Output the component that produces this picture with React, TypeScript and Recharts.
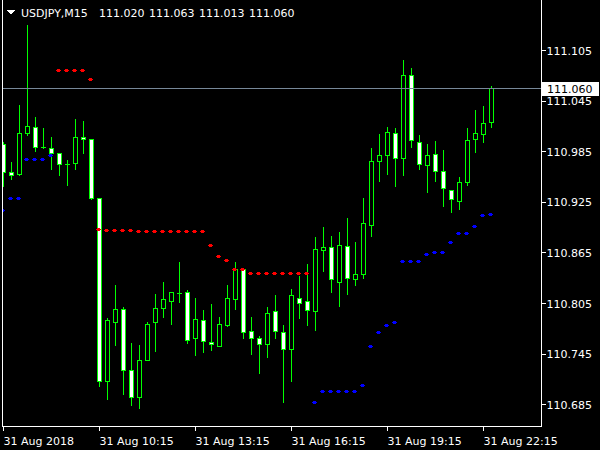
import { ComposedChart, Bar, Scatter, XAxis, YAxis, ReferenceLine } from 'recharts'

// USDJPY M15, bars from 31 Aug 07:15, one every 15 minutes
const openPrices = [
  110.994, 110.960, 110.958, 111.007, 111.014, 110.990, 110.989, 110.983, 110.970, 110.971,
  111.002, 111.000, 110.930, 110.712, 110.783, 110.798, 110.726, 110.693, 110.737, 110.782,
  110.799, 110.807, 110.817, 110.818, 110.763, 110.785, 110.759, 110.754, 110.779, 110.810,
  110.846, 110.772, 110.763, 110.756, 110.795, 110.771, 110.750, 110.811, 110.807, 110.796,
  110.868, 110.872, 110.830, 110.873, 110.834, 110.840, 110.898, 110.974, 110.981, 111.007,
  110.977, 111.075, 110.996, 110.969, 110.982, 110.962, 110.939, 110.926, 110.949, 111.000,
  111.006, 111.020,
]
const highPrices = [
  110.997, 110.973, 111.041, 111.136, 111.026, 111.013, 111.003, 110.983, 110.975, 111.024,
  111.022, 111.000, 110.930, 110.788, 110.827, 110.801, 110.758, 110.756, 110.783, 110.816,
  110.831, 110.818, 110.854, 110.821, 110.812, 110.797, 110.805, 110.789, 110.827, 110.854,
  110.847, 110.789, 110.766, 110.801, 110.815, 110.780, 110.822, 110.838, 110.852, 110.884,
  110.896, 110.885, 110.890, 110.906, 110.878, 110.930, 110.990, 111.006, 111.015, 111.013,
  111.094, 111.085, 111.005, 110.994, 110.998, 110.987, 110.939, 110.955, 111.013, 111.035,
  111.039, 111.063,
]
const lowPrices = [
  110.943, 110.952, 110.956, 111.004, 110.985, 110.988, 110.963, 110.956, 110.945, 110.964,
  110.983, 110.928, 110.706, 110.691, 110.755, 110.696, 110.683, 110.680, 110.737, 110.747,
  110.788, 110.779, 110.806, 110.757, 110.743, 110.746, 110.749, 110.754, 110.777, 110.797,
  110.763, 110.744, 110.721, 110.740, 110.763, 110.687, 110.712, 110.787, 110.778, 110.773,
  110.843, 110.817, 110.801, 110.815, 110.826, 110.834, 110.884, 110.949, 110.957, 110.943,
  110.956, 110.989, 110.963, 110.936, 110.949, 110.919, 110.912, 110.916, 110.945, 110.984,
  110.996, 111.013,
]
const closePrices = [
  110.960, 110.957, 111.007, 111.015, 110.990, 110.990, 110.983, 110.970, 110.970, 111.002,
  111.000, 110.930, 110.712, 110.785, 110.798, 110.725, 110.693, 110.737, 110.780, 110.799,
  110.810, 110.818, 110.817, 110.761, 110.786, 110.760, 110.756, 110.780, 110.811, 110.846,
  110.771, 110.763, 110.756, 110.793, 110.772, 110.750, 110.814, 110.805, 110.797, 110.869,
  110.871, 110.833, 110.874, 110.835, 110.840, 110.900, 110.974, 110.981, 111.008, 110.977,
  111.075, 110.998, 110.970, 110.981, 110.962, 110.941, 110.928, 110.949, 110.999, 111.007,
  111.019, 111.060,
]

// indicator dots (red above price, blue below)
const redLevels = [
  null, null, null, null, null, null, null, 111.082, 111.082, 111.081,
  111.081, 111.071, 110.893, 110.892, 110.892, 110.892, 110.892, 110.890, 110.890, 110.890,
  110.890, 110.890, 110.890, 110.890, 110.890, 110.890, 110.874, 110.861, 110.856, 110.846,
  110.846, 110.841, 110.841, 110.841, 110.841, 110.841, 110.841, 110.841, 110.841, null,
  null, null, null, null, null, null, null, null, null, null,
  null, null, null, null, null, null, null, null, null, null,
  null, null,
]
const blueLevels = [
  110.916, 110.930, 110.930, 110.976, 110.976, 110.976, 110.981, null, null, null,
  null, null, null, null, null, null, null, null, null, null,
  null, null, null, null, null, null, null, null, null, null,
  null, null, null, null, null, null, null, null, null, 110.688,
  110.701, 110.701, 110.701, 110.701, 110.701, 110.708, 110.754, 110.771, 110.779, 110.783,
  110.855, 110.855, 110.855, 110.863, 110.865, 110.865, 110.878, 110.888, 110.888, 110.896,
  110.909, 110.911,
]

const timeTicks = [0, 12, 24, 36, 48, 60]
const timeLabels = ['31 Aug 2018', '31 Aug 10:15', '31 Aug 13:15', '31 Aug 16:15', '31 Aug 19:15', '31 Aug 22:15']
const priceTicks = [111.105, 111.045, 110.985, 110.925, 110.865, 110.805, 110.745, 110.685]
const lastPrice = 111.060
const header = { symbol: 'USDJPY,M15', open: '111.020', high: '111.063', low: '111.013', close: '111.060' }

const FONT = 'DejaVu Sans, sans-serif'
const GREEN = '#00ff00'

const rows = openPrices.map((o, i) => ({
  i,
  open: o,
  high: highPrices[i],
  low: lowPrices[i],
  close: closePrices[i],
  range: [lowPrices[i], highPrices[i]],
}))
const redPoints = redLevels.map((v, i) => ({ i, v })).filter((p) => p.v !== null)
const bluePoints = blueLevels.map((v, i) => ({ i, v })).filter((p) => p.v !== null)

function Candle(props: any) {
  const { x, y, width, height, payload } = props
  const cx = x + width / 2
  const top = height >= 0 ? y : y + height
  const h = Math.abs(height)
  const span = payload.high - payload.low
  const toY = (p: number) => top + (span === 0 ? 0 : ((payload.high - p) / span) * h)
  const yO = toY(payload.open)
  const yC = toY(payload.close)
  const bodyTop = Math.min(yO, yC)
  const bodyBottom = Math.max(yO, yC)
  const bull = payload.close > payload.open
  return (
    <g>
      <line x1={cx} x2={cx} y1={top} y2={top + h} stroke={GREEN} />
      {bodyBottom - bodyTop < 1 ? (
        <line x1={cx - 2.5} x2={cx + 2.5} y1={bodyTop} y2={bodyTop} stroke={GREEN} />
      ) : (
        <rect x={cx - 2} y={bodyTop} width={4} height={bodyBottom - bodyTop} fill={bull ? '#000' : '#fff'} stroke={GREEN} />
      )}
    </g>
  )
}

const makeDot = (color: string) => (props: any) => (
  <g>
    <rect x={props.cx - 2.5} y={props.cy - 1.5} width={3} height={3} fill={color} />
    <rect x={props.cx - 3.5} y={props.cy - 0.5} width={5} height={1} fill={color} />
  </g>
)

const TimeTick = ({ x, y, payload }: any) => (
  <text x={x} y={y} dy={14.5} fill="#fff" fontSize={11} fontFamily={FONT} textAnchor="start">
    {timeLabels[timeTicks.indexOf(payload.value)]}
  </text>
)

const PriceTick = ({ x, y, payload }: any) => (
  <text x={x} y={y} dy={4} fill="#fff" fontSize={11} fontFamily={FONT} textAnchor="start">
    {payload.value.toFixed(3)}
  </text>
)

const PriceTag = (props: any) => {
  const vb = props.viewBox || {}
  const right = vb.x + vb.width
  return (
    <g>
      <rect x={right} y={vb.y - 7} width={57} height={14} fill="#fff" />
      <text x={right + 5.5} y={vb.y + 4} fill="#000" fontSize={11} fontFamily={FONT}>
        {lastPrice.toFixed(3)}
      </text>
    </g>
  )
}

export default function App() {
  return (
    <div style={{ position: 'absolute', left: 0, top: 0, width: 600, height: 450, background: '#000', shapeRendering: 'crispEdges' }}>
      <ComposedChart width={600} height={450} data={rows} margin={{ top: 0, right: 0, bottom: 0, left: 2.5 }}>
        <XAxis
          type="number"
          dataKey="i"
          domain={[-0.125, 67.25]}
          allowDataOverflow
          ticks={timeTicks}
          interval={0}
          height={23.5}
          tickSize={4}
          tickMargin={0}
          axisLine={{ stroke: '#fff' }}
          tickLine={{ stroke: '#fff' }}
          tick={<TimeTick />}
        />
        <YAxis
          orientation="right"
          domain={[110.65915, 111.16515]}
          allowDataOverflow
          ticks={priceTicks}
          interval={0}
          width={58.5}
          tickSize={4}
          tickMargin={1}
          axisLine={{ stroke: '#fff' }}
          tickLine={{ stroke: '#fff' }}
          tick={<PriceTick />}
        />
        <ReferenceLine y={lastPrice} stroke="#778899" label={(p: any) => <PriceTag {...p} />} />
        <Bar dataKey="range" barSize={5} shape={<Candle />} isAnimationActive={false} />
        <Scatter data={redPoints} dataKey="v" fill="#ff0000" shape={makeDot('#ff0000')} isAnimationActive={false} />
        <Scatter data={bluePoints} dataKey="v" fill="#0000ff" shape={makeDot('#0000ff')} isAnimationActive={false} />
      </ComposedChart>
      {/* left frame line and the MT4 header */}
      <svg width={600} height={450} style={{ position: 'absolute', left: 0, top: 0, pointerEvents: 'none' }}>
        <line x1={2.5} x2={2.5} y1={0} y2={427} stroke="#fff" />
        <polygon points="6,10 15,10 10.5,14.5" fill="#fff" />
        <g fill="#fff" fontSize={11} fontFamily={FONT}>
          <text x={21} y={17}>{header.symbol}</text>
          <text x={99} y={17}>{header.open}</text>
          <text x={149} y={17}>{header.high}</text>
          <text x={199} y={17}>{header.low}</text>
          <text x={249} y={17}>{header.close}</text>
        </g>
      </svg>
    </div>
  )
}
